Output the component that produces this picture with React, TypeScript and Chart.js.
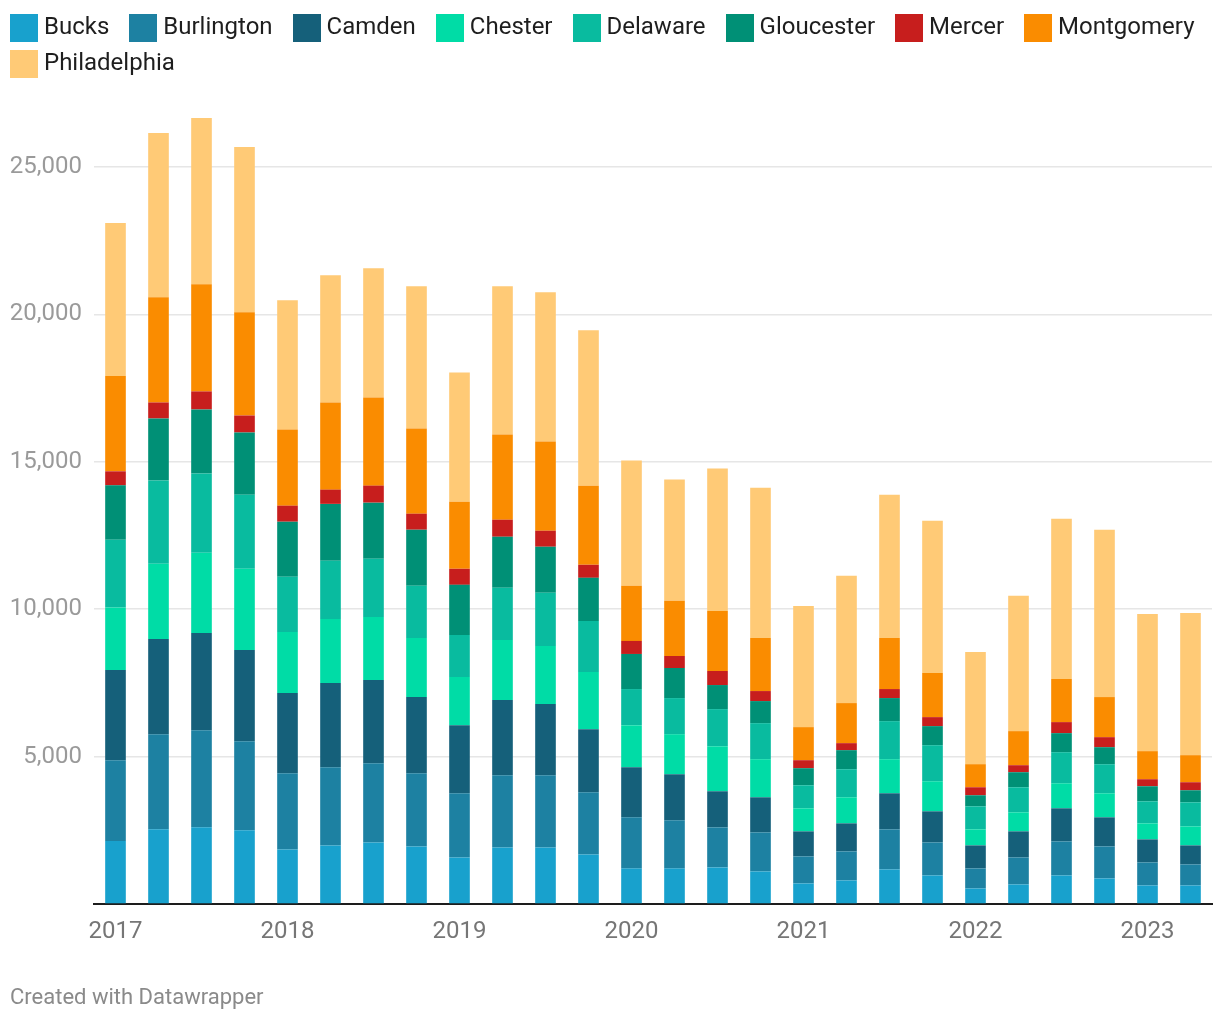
import React, { useEffect, useRef } from "react";
import { Chart, registerables } from "chart.js";

Chart.register(...registerables);

const quarters = [
  "2017 Q1", "2017 Q2", "2017 Q3", "2017 Q4",
  "2018 Q1", "2018 Q2", "2018 Q3", "2018 Q4",
  "2019 Q1", "2019 Q2", "2019 Q3", "2019 Q4",
  "2020 Q1", "2020 Q2", "2020 Q3", "2020 Q4",
  "2021 Q1", "2021 Q2", "2021 Q3", "2021 Q4",
  "2022 Q1", "2022 Q2", "2022 Q3", "2022 Q4",
  "2023 Q1", "2023 Q2",
];

const yearTickLabels = ["2017", "2018", "2019", "2020", "2021", "2022", "2023"];
const yTickValues = [0, 5000, 10000, 15000, 20000, 25000];

const bucks = [2135, 2532, 2600, 2498, 1852, 1988, 2090, 1954, 1581, 1920, 1920, 1683, 1207, 1207, 1241, 1105, 697, 799, 1173, 969, 527, 663, 969, 867, 629, 629];
const burlington = [2743, 3229, 3297, 3025, 2584, 2652, 2686, 2482, 2175, 2448, 2448, 2107, 1733, 1631, 1359, 1325, 918, 986, 1359, 1121, 680, 918, 1155, 1087, 782, 714];
const camden = [3059, 3229, 3297, 3094, 2719, 2855, 2821, 2583, 2311, 2549, 2413, 2141, 1700, 1564, 1224, 1190, 849, 951, 1224, 1054, 781, 883, 1122, 986, 781, 645];
const chester = [2117, 2550, 2720, 2753, 2073, 2175, 2141, 2005, 1632, 2039, 1972, 1938, 1427, 1359, 1529, 1292, 782, 884, 1156, 1020, 544, 646, 850, 816, 544, 646];
const delaware = [2302, 2821, 2685, 2515, 1870, 1972, 1972, 1768, 1427, 1768, 1801, 1733, 1224, 1224, 1258, 1223, 782, 952, 1291, 1223, 782, 850, 1054, 986, 748, 816];
const gloucester = [1845, 2107, 2175, 2108, 1869, 1930, 1903, 1904, 1700, 1733, 1564, 1462, 1190, 1020, 816, 748, 578, 646, 782, 646, 374, 510, 645, 577, 510, 408];
const mercer = [476, 544, 612, 577, 544, 483, 578, 543, 544, 578, 543, 442, 442, 408, 476, 340, 272, 238, 306, 306, 272, 238, 374, 340, 238, 272];
const montgomery = [3229, 3569, 3637, 3501, 2583, 2957, 2991, 2890, 2277, 2890, 3026, 2685, 1869, 1869, 2039, 1801, 1121, 1359, 1733, 1496, 782, 1155, 1462, 1360, 952, 918];
const philadelphia = [5190, 5575, 5642, 5609, 4385, 4317, 4385, 4826, 4385, 5030, 5064, 5269, 4249, 4113, 4827, 5099, 4113, 4317, 4861, 5166, 3807, 4589, 5438, 5677, 4656, 4826];

const seriesNames = ["Bucks", "Burlington", "Camden", "Chester", "Delaware", "Gloucester", "Mercer", "Montgomery", "Philadelphia"];
const seriesColors = ["#18a1cd", "#1d81a2", "#15607a", "#00dca6", "#09bb9f", "#009076", "#c71e1d", "#fa8c00", "#ffca76"];
const seriesValues = [bucks, burlington, camden, chester, delaware, gloucester, mercer, montgomery, philadelphia];

const FONT = "Roboto, 'Noto Sans', sans-serif";

export default function App() {
  const canvasRef = useRef<HTMLCanvasElement | null>(null);

  useEffect(() => {
    document.body.style.margin = "0";
    const canvas = canvasRef.current;
    if (!canvas) return;
    const chart = new Chart(canvas, {
      type: "bar",
      data: {
        labels: quarters,
        datasets: seriesNames.map((name, i) => ({
          label: name,
          data: seriesValues[i],
          backgroundColor: seriesColors[i],
          borderWidth: 0,
          barPercentage: 0.48,
          categoryPercentage: 1,
        })),
      },
      options: {
        responsive: false,
        animation: false,
        layout: { padding: { top: 108, right: 8, bottom: 0, left: 0 } },
        plugins: {
          legend: { display: false },
          tooltip: { enabled: false },
        },
        scales: {
          x: {
            stacked: true,
            z: 1,
            grid: { display: false, drawTicks: false },
            border: { display: true, color: "#1d1d1d", width: 2 },
            ticks: {
              autoSkip: false,
              maxRotation: 0,
              minRotation: 0,
              padding: 14,
              color: "#767676",
              font: { family: FONT, size: 24 },
              callback: (_v: any, index: number) =>
                index % 4 === 0 ? yearTickLabels[index / 4] : "",
            },
            afterFit: (scale: any) => {
              scale.height = 116;
            },
          },
          y: {
            stacked: true,
            min: 0,
            max: 27000,
            grid: {
              drawTicks: false,
              color: (ctx: any) => (ctx.tick && ctx.tick.value === 0 ? "rgba(0,0,0,0)" : "#e6e6e6"),
              lineWidth: 1.5,
            },
            border: { display: false },
            afterBuildTicks: (scale: any) => {
              scale.ticks = yTickValues.map((v) => ({ value: v }));
            },
            ticks: {
              padding: 12,
              color: "#9a9a9a",
              font: { family: FONT, size: 24 },
              callback: (v: any) => (Number(v) === 0 ? "" : Number(v).toLocaleString("en-US")),
            },
            afterFit: (scale: any) => {
              scale.width = 94;
            },
          },
        },
      },
    });
    return () => chart.destroy();
  }, []);

  return (
    <div
      style={{
        position: "absolute",
        left: 0,
        top: 0,
        width: 1220,
        height: 1020,
        background: "#ffffff",
        fontFamily: FONT,
        overflow: "hidden",
      }}
    >
      <canvas ref={canvasRef} width={1220} height={1020} style={{ position: "absolute", left: 0, top: 0 }} />
      <div
        style={{
          position: "absolute",
          left: 10,
          top: 14,
          width: 1205,
          display: "flex",
          flexWrap: "wrap",
          rowGap: 8,
        }}
      >
        {seriesNames.map((name, i) => (
          <div key={name} style={{ display: "flex", alignItems: "flex-start", marginRight: 20, height: 28 }}>
            <span style={{ display: "inline-block", width: 28, height: 28, background: seriesColors[i] }} />
            <span
              style={{
                marginLeft: 6,
                fontSize: 24,
                lineHeight: "28px",
                color: "#1e1e1e",
                position: "relative",
                top: -2,
                whiteSpace: "nowrap",
              }}
            >
              {name}
            </span>
          </div>
        ))}
      </div>
      <div
        style={{
          position: "absolute",
          left: 10,
          top: 986,
          fontSize: 22,
          lineHeight: "22px",
          color: "#8a8a8a",
          whiteSpace: "nowrap",
        }}
      >
        Created with Datawrapper
      </div>
    </div>
  );
}
